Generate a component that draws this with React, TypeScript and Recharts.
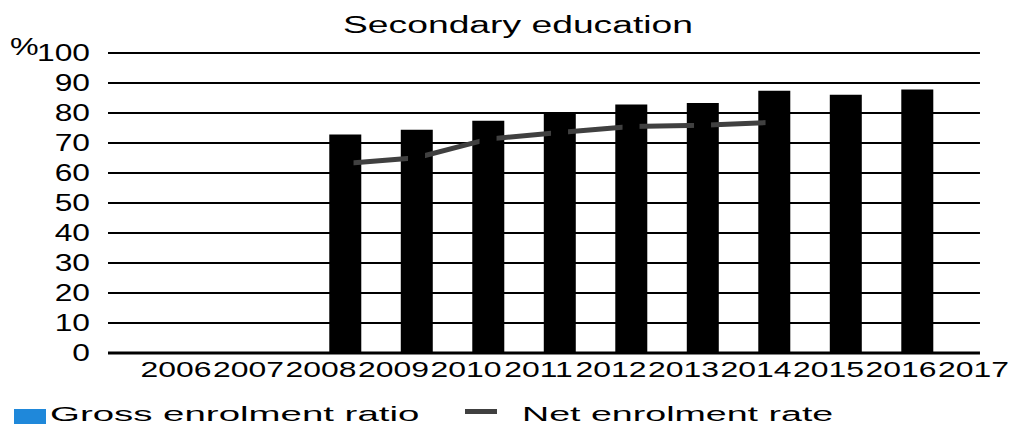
import React from "react";
import { ComposedChart, Bar, Line, XAxis, YAxis, ReferenceLine } from "recharts";

const years = [2006, 2007, 2008, 2009, 2010, 2011, 2012, 2013, 2014, 2015, 2016, 2017];
const grossEnrolment = [null, null, 72.8, 74.4, 77.4, 80.0, 82.8, 83.3, 87.4, 86.1, 87.8, null];
const netEnrolment = [null, null, 63.2, 65.1, 71.3, 73.5, 75.5, 75.9, 76.9, null, null, null];
const yTicks = [0, 10, 20, 30, 40, 50, 60, 70, 80, 90, 100];

const data = years.map((year, i) => ({
  year,
  gross: grossEnrolment[i],
  net: netEnrolment[i]
}));

// numeric x axis so bars sit where the original put them
const X_MIN = 2004.685;
const X_MAX = 2017.3;
const GRID_END = 2016.88;

const FONT = "'Liberation Sans', Arial, sans-serif";

const YTick = (props: any) => {
  const { x, y, payload } = props;
  return (
    <text
      transform={`translate(${x}, ${y + 8.3}) scale(1.38, 1)`}
      textAnchor="end"
      fontSize={23}
      fontFamily={FONT}
      fill="#000"
    >
      {payload.value}
    </text>
  );
};

const XTick = (props: any) => {
  const { x, y, payload } = props;
  // labels drift a little from the bar centres in the original
  const shift = -26 + (payload.value - 2006);
  return (
    <text
      transform={`translate(${x + shift}, ${y + 24}) scale(1.45, 1)`}
      textAnchor="middle"
      fontSize={22}
      fontFamily={FONT}
      fill="#000"
    >
      {payload.value}
    </text>
  );
};

const MarkerDot = (props: any) => {
  const { cx, cy, index } = props;
  if (cx == null || cy == null) return <g key={`d${index}`} />;
  return <rect key={`d${index}`} x={cx - 8.5} y={cy - 8.5} width={17} height={17} fill="#000" />;
};

const App: React.FC = () => {
  return (
    <div style={{ position: "absolute", left: 0, top: 0, width: 1015, height: 426, overflow: "hidden", background: "#fff" }}>
      <ComposedChart
        width={1015}
        height={426}
        data={data}
        margin={{ top: 53, right: 5, bottom: 43, left: 8 }}
      >
        <XAxis
          dataKey="year"
          type="number"
          domain={[X_MIN, X_MAX]}
          ticks={years}
          interval={0}
          allowDataOverflow
          axisLine={false}
          tickLine={false}
          tickSize={0}
          tickMargin={0}
          height={30}
          tick={<XTick />}
        />
        <YAxis
          domain={[0, 100]}
          ticks={yTicks}
          interval={0}
          width={100}
          axisLine={false}
          tickLine={false}
          tickSize={0}
          tickMargin={18}
          tick={<YTick />}
        />
        {yTicks.map((v) => (
          <ReferenceLine
            key={v}
            segment={[{ x: X_MIN, y: v }, { x: GRID_END, y: v }]}
            stroke="#000"
            strokeWidth={v === 0 ? 3 : 2}
          />
        ))}
        <Bar dataKey="gross" fill="#000" barSize={32} isAnimationActive={false} />
        <Line
          dataKey="net"
          stroke="#404040"
          strokeWidth={5}
          dot={MarkerDot}
          activeDot={false}
          isAnimationActive={false}
        />
      </ComposedChart>
      <svg width={1015} height={426} style={{ position: "absolute", left: 0, top: 0, pointerEvents: "none" }}>
        <text transform="translate(518, 33.3) scale(1.62, 1)" textAnchor="middle" fontSize={23} fontFamily={FONT} fill="#000">
          Secondary education
        </text>
        <text transform="translate(10, 55) scale(1.4, 1)" fontSize={23} fontFamily={FONT} fill="#000">
          %
        </text>
        <rect x={14} y={409} width={32} height={15} fill="#1f88da" />
        <text transform="translate(50, 421) scale(1.83, 1)" fontSize={21} fontFamily={FONT} fill="#000">
          Gross enrolment ratio
        </text>
        <rect x={465} y={409} width={32} height={5} fill="#404040" />
        <text transform="translate(522, 421) scale(1.79, 1)" fontSize={21} fontFamily={FONT} fill="#000">
          Net enrolment rate
        </text>
      </svg>
    </div>
  );
};

export default App;
